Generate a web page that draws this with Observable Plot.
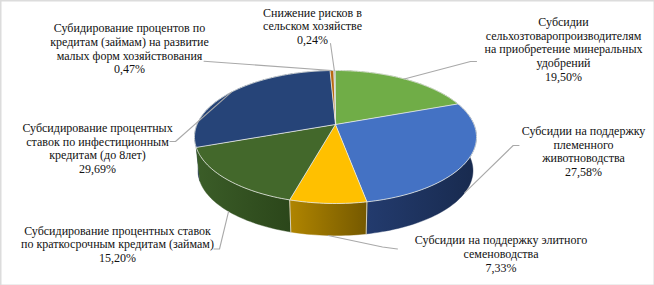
<!DOCTYPE html>
<html>
<head>
<meta charset="utf-8">
<script src="https://cdn.jsdelivr.net/npm/d3@7"></script>
<script src="https://cdn.jsdelivr.net/npm/@observablehq/plot@0.6"></script>
<style>
html,body{margin:0;padding:0;background:#fff}
svg{display:block}
</style>
</head>
<body>
<div id="chart"></div>
<script>
// ---- data ----
const categories = [
  "Снижение рисков в\nсельском хозяйстве",
  "Субсидии\nсельхозтоваропроизводителям\nна приобретение минеральных\nудобрений",
  "Субсидии на поддержку\nплеменного\nживотноводства",
  "Субсидии на поддержку элитного\nсеменоводства",
  "Субсидирование процентных ставок\nпо краткосрочным кредитам (займам)",
  "Субсидирование процентных\nставок по инфестиционным\nкредитам (до 8лет)",
  "Субидирование процентов по\nкредитам (займам) на развитие\nмалых форм хозяйствования"
];
const values = [0.24, 19.50, 27.58, 7.33, 15.20, 29.69, 0.47];
const valueLabels = ["0,24%", "19,50%", "27,58%", "7,33%", "15,20%", "29,69%", "0,47%"];

// ---- styling ----
const topColors = ["#a5a5a5", "#70ad47", "#4472c4", "#ffc000", "#43682b", "#264478", "#b8690f"];
const wallStops = [
  ["#6e6e6e", "#5a5a5a"],
  ["#4a7530", "#3c5f27"],
  ["#233b6e", "#182a4e"],
  ["#b08500", "#755900"],
  ["#3b5d28", "#2b461a"],
  ["#1a2e52", "#1a2e52"],
  ["#7a3708", "#7a3708"]
];

// ---- layout: label block centre, leader start, bend ----
const labelX = [312, 563, 583, 500.5, 117, 97, 129];
const labelY = [25.5, 48.3, 150.5, 253, 243.5, 147.5, 48];
const leaderFrom = [[330, 43], [476, 61], [518.5, 145], [397, 248.5], [213.5, 248.5], [169.5, 141], [203.5, 60.7]];
const leaderBend = [null, [470, 61], [512.7, 145], [382, 246.5], [219, 248.5], [175, 141], null];
const leaderOnBase = [false, false, true, true, true, false, false];

// ---- pie geometry: a tilted disc in perspective ----
const cx = 335, cy = 124, B = 138.5, A = 64.15, k = 0.188;
const baseDrop = 34, baseScale = 0.975, rotation = -1 * Math.PI / 180;
const project = (a, base = false) => {
  const u = Math.sin(a), v = -Math.cos(a), w = 1 - k * v;
  const s = base ? baseScale : 1;
  return [cx + s * B * u / w, cy + (base ? baseDrop : 0) + s * A * v / w];
};
const arcs = d3.pie().sort(null).value(d => d)
  .startAngle(rotation).endAngle(rotation + 2 * Math.PI)(values);
const arcPoints = (a0, a1, base) => {
  const n = Math.max(2, Math.ceil((a1 - a0) / (Math.PI / 120)));
  return d3.range(n + 1).map(i => project(a0 + (a1 - a0) * i / n, base));
};
const topFace = d => [[cx, cy], ...arcPoints(d.startAngle, d.endAngle, false)];
const wallFace = d => [...arcPoints(d.startAngle, d.endAngle, false),
                       ...arcPoints(d.startAngle, d.endAngle, true).reverse()];

const poly = (pts, opts) => Plot.line(pts, {x: d => d[0], y: d => d[1], curve: "linear-closed", ...opts});
const path = (pts, opts) => Plot.line(pts, {x: d => d[0], y: d => d[1], curve: "linear", ...opts});

const gradients = () => {
  const defs = d3.create("svg:defs");
  wallStops.forEach((st, i) => {
    const g = defs.append("linearGradient").attr("id", "wall" + i)
      .attr("x1", 0).attr("x2", 1).attr("y1", 0).attr("y2", 0);
    g.append("stop").attr("offset", 0).attr("stop-color", st[0]);
    g.append("stop").attr("offset", 1).attr("stop-color", st[1]);
  });
  return defs.node();
};

const wallOrder = [5, 6, 0, 1, 2, 4, 3];
const marks = [
  gradients,
  ...wallOrder.map(i => poly(wallFace(arcs[i]), {fill: `url(#wall${i})`, stroke: `url(#wall${i})`, strokeWidth: 0.4})),
  // wall seams at the visible slice boundaries
  ...[2, 3].map(i => path([project(arcs[i].endAngle, false), project(arcs[i].endAngle, true)],
    {stroke: "#d8d8d0", strokeWidth: 0.9})),
  ...arcs.map((d, i) => poly(topFace(d), {fill: topColors[i], stroke: "#e9ebe6", strokeWidth: 0.8})),
  // leader lines end on the slice's middle angle, on the rim that faces the label
  ...arcs.map((d, i) => {
    const mid = (d.startAngle + d.endAngle) / 2;
    const pts = [leaderFrom[i], leaderBend[i], project(mid, leaderOnBase[i])].filter(Boolean);
    return path(pts, {stroke: "#a9a9a9", strokeWidth: 1.1});
  }),
  Plot.text(categories.map((c, i) => i), {
    x: i => labelX[i],
    y: i => labelY[i],
    text: i => categories[i] + "\n" + valueLabels[i],
    lineAnchor: "middle",
    lineHeight: 1.14,
    textAnchor: "middle",
    fontFamily: "Liberation Serif",
    fontSize: 12,
    fill: "#111"
  }),
  Plot.frame({stroke: "#dcdcdc", strokeWidth: 2})
];

const chart = Plot.plot({
  width: 654, height: 285,
  margin: 0,
  x: {domain: [0, 654], range: [0, 654], axis: null},
  y: {domain: [0, 285], range: [0, 285], axis: null},
  style: {background: "#fff"},
  marks
});
document.getElementById("chart").append(chart);
</script>
</body>
</html>
